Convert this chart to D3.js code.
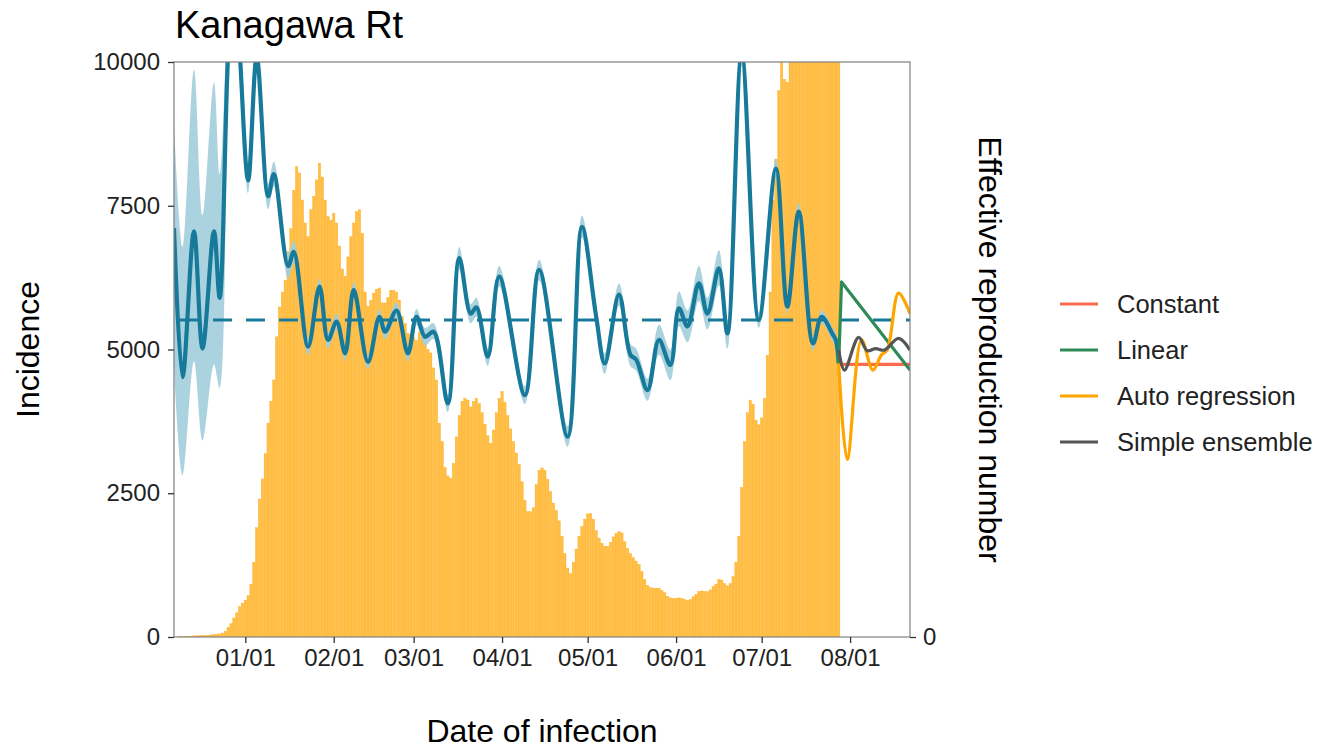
<!DOCTYPE html>
<html>
<head>
<meta charset="utf-8">
<script src="https://cdn.jsdelivr.net/npm/d3@7"></script>
<style>
  html, body { margin: 0; padding: 0; background: #fff; }
  svg text { font-family: "Liberation Sans", Arial, Helvetica, sans-serif; }
</style>
</head>
<body>
<svg id="chart" width="1320" height="749"></svg>
<script>
// ---------------- DATA ----------------
const chartTitle = "Kanagawa Rt";
const incidenceStart = "2021-12-07";   // first bar date (daily bars)
const incidence = [
  0, 0, 5, 10, 10, 15, 15, 20, 20, 25, 25, 30, 30, 35, 40, 45,
  55, 70, 100, 170, 230, 330, 420, 530, 590,
  640, 720, 920, 1300, 1900, 2400, 2750, 3190, 3720, 4100, 4470, 5220, 5740,
  6000, 6200, 6700, 7100, 7770, 8180, 8070, 7600, 7200, 6960, 7430, 7660,
  7950, 8240, 8000, 7600, 7310, 7250, 7370, 7200, 6800, 6400, 6270, 6610,
  6960, 7200, 7400, 7430, 7020, 6000, 5750, 5850, 5980, 6050, 6070, 5810,
  5810, 5900, 6030, 6030, 6000, 5860, 5570, 5450, 5280, 5250, 5220, 5160,
  5300, 5200, 5110, 5000, 4940, 4680, 4470, 3720, 3400, 2950, 2800, 2760,
  3020, 3480, 3850, 4100, 4150, 4120, 4000, 4100, 4150, 4060, 3900, 3700,
  3500, 3370, 3600, 3900, 4150, 4270, 4080, 3850, 3620, 3400, 3200, 3000,
  2700, 2380, 2180, 2180, 2250, 2650, 2900, 2940, 2900, 2740, 2530, 2330,
  2200, 2020, 1750, 1450, 1200, 1100, 1300, 1530, 1750, 1920, 2050, 2140,
  2150, 2050, 1850, 1720, 1630, 1580, 1580, 1650, 1740, 1800, 1830, 1810,
  1660, 1540, 1450, 1380, 1320, 1260, 1140, 1000, 900, 860, 850, 850,
  850, 810, 770, 710, 680, 670, 670, 680, 670, 660, 640, 650,
  700, 740, 790, 800, 790, 790, 820, 880, 920, 1000, 990, 930,
  890, 930, 1050, 1300, 1750, 2600, 3400, 3900, 4120, 4050, 3770, 3690,
  3810, 4150, 4900, 6000, 7600, 8300, 9500, 10050, 9700, 9650, 10600, 11200,
  11800, 12100, 12400, 12800, 12600, 12900, 13100, 12700, 12500, 12300, 12800, 12400, 12000, 11700, 11300, 11000
];

// Effective reproduction number (estimated), key dates
const rtDates = [
  "2021-12-07","2021-12-10","2021-12-14","2021-12-17","2021-12-21","2021-12-23","2021-12-26","2021-12-28","2021-12-30",
  "2022-01-02","2022-01-05","2022-01-09","2022-01-11","2022-01-16","2022-01-18","2022-01-23","2022-01-27","2022-01-30",
  "2022-02-02","2022-02-05","2022-02-08","2022-02-13","2022-02-17","2022-02-19","2022-02-23","2022-02-27",
  "2022-03-02","2022-03-05","2022-03-08","2022-03-13","2022-03-17","2022-03-21","2022-03-23","2022-03-27","2022-03-31",
  "2022-04-09","2022-04-14","2022-04-24","2022-04-29",
  "2022-05-04","2022-05-07","2022-05-12","2022-05-16","2022-05-18","2022-05-22","2022-05-26","2022-05-30",
  "2022-06-02","2022-06-05","2022-06-09","2022-06-12","2022-06-16","2022-06-19","2022-06-24","2022-06-30",
  "2022-07-06","2022-07-10","2022-07-14","2022-07-19","2022-07-22","2022-07-26","2022-07-27","2022-07-28"
];
const rtMean = [
  1.29, 0.82, 1.28, 0.91, 1.28, 1.07, 1.85, 2.10, 1.85,
  1.44, 1.83, 1.39, 1.46, 1.17, 1.215, 0.916, 1.105, 0.937,
  0.995, 0.895, 1.095, 0.868, 1.01, 0.963, 1.03, 0.895,
  1.01, 0.947, 0.963, 0.737, 1.195, 1.02, 1.04, 0.884, 1.137,
  0.763, 1.158, 0.632, 1.294,
  1.01, 0.863, 1.08, 0.89, 0.875, 0.779, 0.937, 0.858,
  1.037, 0.98, 1.116, 1.02, 1.163, 0.958, 1.84, 1.0,
  1.478, 1.042, 1.342, 0.926, 1.01, 0.953, 0.937, 0.863
];
const rtLower = [
  0.85, 0.51, 0.87, 0.62, 0.86, 0.785, 1.70, 2.00, 1.78,
  1.40, 1.78, 1.35, 1.42, 1.13, 1.18, 0.89, 1.08, 0.91,
  0.97, 0.87, 1.07, 0.845, 0.985, 0.94, 1.005, 0.87,
  0.985, 0.92, 0.94, 0.71, 1.16, 0.99, 1.01, 0.855, 1.105,
  0.735, 1.125, 0.60, 1.26,
  0.975, 0.83, 1.045, 0.855, 0.84, 0.745, 0.89, 0.81,
  0.98, 0.93, 1.06, 0.97, 1.11, 0.91, 1.80, 0.975,
  1.45, 1.02, 1.315, 0.905, 0.99, 0.93, 0.915, 0.84
];
const rtUpper = [
  1.62, 1.23, 1.79, 1.33, 1.75, 1.46, 2.00, 2.20, 1.92,
  1.49, 1.88, 1.43, 1.50, 1.21, 1.25, 0.945, 1.13, 0.96,
  1.02, 0.92, 1.12, 0.89, 1.035, 0.985, 1.055, 0.92,
  1.035, 0.975, 0.99, 0.765, 1.23, 1.05, 1.07, 0.91, 1.17,
  0.79, 1.19, 0.665, 1.33,
  1.045, 0.895, 1.115, 0.925, 0.91, 0.815, 0.985, 0.905,
  1.09, 1.03, 1.17, 1.07, 1.22, 1.0, 1.88, 1.025,
  1.51, 1.065, 1.37, 0.95, 1.03, 0.975, 0.96, 0.885
];

// Forecasts of Rt
const modelNames = ["Constant", "Linear", "Auto regression", "Simple ensemble"];
const constantDates = ["2022-07-28", "2022-08-22"];
const constantRt    = [0.86, 0.86];
const linearDates   = ["2022-07-28", "2022-07-29", "2022-08-22"];
const linearRt      = [0.863, 1.12, 0.842];
const arDates       = ["2022-07-28","2022-07-31","2022-08-05","2022-08-09","2022-08-12","2022-08-14","2022-08-18","2022-08-22"];
const arRt          = [0.863, 0.56, 0.937, 0.842, 0.89, 0.905, 1.085, 1.02];
const ensDates      = ["2022-07-28","2022-07-30","2022-08-04","2022-08-07","2022-08-10","2022-08-13","2022-08-18","2022-08-22"];
const ensRt         = [0.905, 0.842, 0.945, 0.903, 0.91, 0.905, 0.942, 0.905];

const incidenceTicks = [0, 2500, 5000, 7500, 10000];
const dateTicks = ["2022-01-01","2022-02-01","2022-03-01","2022-04-01","2022-05-01","2022-06-01","2022-07-01","2022-08-01"];
const rtReference = 1;

// ---------------- LAYOUT ----------------
const parse = d3.utcParse("%Y-%m-%d");
const P = { left: 174, right: 910, top: 62, bottom: 637 };
const colors = {
  bar: "orange", rt: "#187a9a", band: "#a2cddc",
  "Constant": "#f96a4f", "Linear": "#2e8b57", "Auto regression": "#ffa500", "Simple ensemble": "#555555"
};
const textCol = "#222";

const svg = d3.select("#chart");
const x = d3.scaleUtc().domain([parse("2021-12-07"), parse("2022-08-22")]).range([P.left, P.right]);
const yInc = d3.scaleLinear().domain([0, 10000]).range([P.bottom, P.top]);
const yRt = d3.scaleLinear().domain([0, 10000 / 5513]).range([P.bottom, P.top]);
const dayW = x(parse("2022-01-02")) - x(parse("2022-01-01"));

svg.append("defs").append("clipPath").attr("id", "clip")
  .append("rect").attr("x", P.left).attr("y", P.top)
  .attr("width", P.right - P.left).attr("height", P.bottom - P.top);

const plot = svg.append("g").attr("clip-path", "url(#clip)");

// bars
const start = parse(incidenceStart);
const bars = incidence.map((v, i) => ({ date: d3.utcDay.offset(start, i), v }));
plot.append("g").selectAll("rect").data(bars).join("rect")
  .attr("x", d => x(d.date) - dayW / 2 + 0.25)
  .attr("width", dayW - 0.5)
  .attr("y", d => yInc(d.v))
  .attr("height", d => yInc(0) - yInc(d.v))
  .attr("fill", colors.bar).attr("fill-opacity", 0.72)
  .attr("stroke", colors.bar).attr("stroke-width", 0.35);

// Rt band + line
const rt = rtDates.map((d, i) => ({ date: parse(d), m: rtMean[i], lo: rtLower[i], hi: rtUpper[i] }));
plot.append("path").datum(rt)
  .attr("d", d3.area().x(d => x(d.date)).y0(d => yRt(d.lo)).y1(d => yRt(d.hi)).curve(d3.curveCatmullRom.alpha(0.5)))
  .attr("fill", colors.band).attr("opacity", 0.9);

// reference line Rt = 1
plot.append("line")
  .attr("x1", P.left).attr("x2", P.right)
  .attr("y1", yRt(rtReference)).attr("y2", yRt(rtReference))
  .attr("stroke", colors.rt).attr("stroke-width", 3)
  .attr("stroke-dasharray", "19 14").attr("stroke-dashoffset", 27);

plot.append("path").datum(rt)
  .attr("d", d3.line().x(d => x(d.date)).y(d => yRt(d.m)).curve(d3.curveCatmullRom.alpha(0.5)))
  .attr("fill", "none").attr("stroke", colors.rt).attr("stroke-width", 4.2)
  .attr("stroke-linejoin", "round");

// forecasts
const fc = [
  { name: "Constant", dates: constantDates, vals: constantRt, curve: d3.curveLinear },
  { name: "Linear", dates: linearDates, vals: linearRt, curve: d3.curveLinear },
  { name: "Auto regression", dates: arDates, vals: arRt, curve: d3.curveCatmullRom.alpha(0.5) },
  { name: "Simple ensemble", dates: ensDates, vals: ensRt, curve: d3.curveCatmullRom.alpha(0.5) }
];
fc.forEach(f => {
  const pts = f.dates.map((d, i) => ({ date: parse(d), v: f.vals[i] }));
  plot.append("path").datum(pts)
    .attr("d", d3.line().x(d => x(d.date)).y(d => yRt(d.v)).curve(f.curve))
    .attr("fill", "none").attr("stroke", colors[f.name]).attr("stroke-width", 3.2)
    .attr("stroke-linejoin", "round");
});

// panel border
svg.append("rect").attr("x", P.left).attr("y", P.top)
  .attr("width", P.right - P.left).attr("height", P.bottom - P.top)
  .attr("fill", "none").attr("stroke", "#808080").attr("stroke-width", 1.2);

// axes
const fontTick = 24;
const gL = svg.append("g").attr("transform", `translate(${P.left},0)`)
  .call(d3.axisLeft(yInc).tickValues(incidenceTicks).tickSize(6).tickPadding(8).tickFormat(d3.format("d")));
const gB = svg.append("g").attr("transform", `translate(0,${P.bottom})`)
  .call(d3.axisBottom(x).tickValues(dateTicks.map(parse)).tickSize(6).tickPadding(6).tickFormat(d3.utcFormat("%m/%d")));
const gR = svg.append("g").attr("transform", `translate(${P.right},0)`)
  .call(d3.axisRight(yRt).tickValues([0]).tickSize(6).tickPadding(7).tickFormat(d3.format("d")));
[gL, gB, gR].forEach(g => {
  g.select(".domain").remove();
  g.selectAll(".tick line").attr("stroke", "#333").attr("stroke-width", 1.3);
  g.selectAll(".tick text").attr("fill", textCol).style("font-size", fontTick + "px")
    .style("font-family", '"Liberation Sans", Arial, sans-serif');
});

// titles
svg.append("text").attr("x", 175).attr("y", 38).text(chartTitle)
  .attr("fill", "#000").style("font-size", "38px");
svg.append("text").attr("x", (P.left + P.right) / 2).attr("y", 742)
  .attr("text-anchor", "middle").text("Date of infection")
  .attr("fill", "#000").style("font-size", "32px");
svg.append("text").attr("transform", `translate(39,${(P.top + P.bottom) / 2}) rotate(-90)`)
  .attr("text-anchor", "middle").text("Incidence")
  .attr("fill", "#000").style("font-size", "32px");
svg.append("text").attr("transform", `translate(979,${(P.top + P.bottom) / 2}) rotate(90)`)
  .attr("text-anchor", "middle").text("Effective reproduction number")
  .attr("fill", "#000").style("font-size", "32px");

// legend
const lg = svg.append("g");
modelNames.forEach((n, i) => {
  const yy = 304 + i * 46;
  lg.append("line").attr("x1", 1060).attr("x2", 1098).attr("y1", yy).attr("y2", yy)
    .attr("stroke", colors[n]).attr("stroke-width", 3.2);
  lg.append("text").attr("x", 1117).attr("y", yy).attr("dy", "0.35em").text(n)
    .attr("fill", textCol).style("font-size", "25.5px");
});
</script>
</body>
</html>
